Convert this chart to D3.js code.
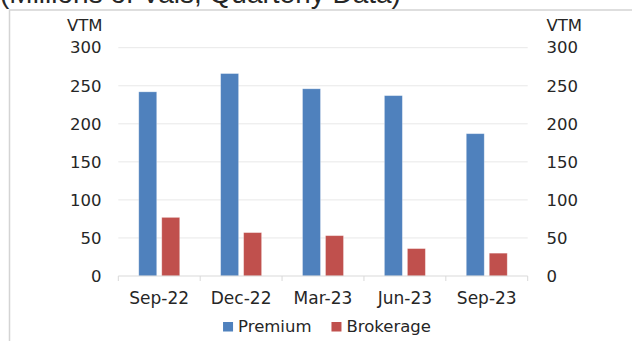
<!DOCTYPE html>
<html>
<head>
<meta charset="utf-8">
<script src="https://cdn.jsdelivr.net/npm/d3@7"></script>
<style>
  html, body { margin: 0; padding: 0; background: #fff; }
  svg { display: block; }
  text { font-family: "DejaVu Sans", sans-serif; fill: #262626; }
</style>
</head>
<body>
<svg id="chart" width="632" height="341"></svg>
<script>
// Quarterly VTM figures
const categories = ["Sep-22", "Dec-22", "Mar-23", "Jun-23", "Sep-23"];
const seriesNames = ["Premium", "Brokerage"];
const premium = [242, 266, 246, 237, 187];
const brokerage = [77, 57, 53, 36, 30];
const yTicks = [0, 50, 100, 150, 200, 250, 300];
const colors = ["#4f81bd", "#c0504d"];
const unitLabel = "VTM";
const title = "(Millions of Vals, Quarterly Data)";

const rows = categories.map((c, i) => ({ cat: c, values: [premium[i], brokerage[i]] }));

const W = 632, H = 341;
const plot = { left: 118.3, right: 527.7, top: 47.7, bottom: 276 };

const svg = d3.select("#chart");

// heading running off the top edge
svg.append("text")
  .attr("x", 0).attr("y", 2.5)
  .style("font-family", "Liberation Sans, Arial, sans-serif")
  .attr("font-size", 28)
  .text(title);

// frame
svg.append("path")
  .attr("d", `M${W},10 H9.5 V${H}`)
  .attr("fill", "none")
  .attr("stroke", "#d4d4d4")
  .attr("stroke-width", 1.5);

const x0 = d3.scaleBand().domain(categories)
  .range([plot.left, plot.right]).paddingInner(0.5).paddingOuter(0.25);
const x1 = d3.scaleBand().domain(seriesNames)
  .range([0, x0.bandwidth()]).paddingInner(0.22).paddingOuter(0);
const y = d3.scaleLinear().domain([0, 300]).range([plot.bottom, plot.top]);

// gridlines
svg.append("g").selectAll("line")
  .data(yTicks.filter(t => t > 0))
  .join("line")
  .attr("x1", plot.left).attr("x2", plot.right)
  .attr("y1", d => y(d)).attr("y2", d => y(d))
  .attr("stroke", "#e8e8e8").attr("stroke-width", 1);

// bars
const groups = svg.append("g").selectAll("g")
  .data(rows).join("g")
  .attr("transform", d => `translate(${x0(d.cat)},0)`);
groups.selectAll("rect")
  .data(d => d.values.map((v, i) => ({ key: seriesNames[i], v, i })))
  .join("rect")
  .attr("x", d => x1(d.key))
  .attr("width", x1.bandwidth())
  .attr("y", d => y(d.v))
  .attr("height", d => y(0) - y(d.v))
  .attr("fill", d => colors[d.i])
  .attr("stroke", "rgba(255,255,255,0.35)")
  .attr("stroke-width", 0.8);

// category axis
const step = x0.step();
const bounds = d3.range(categories.length + 1).map(i => plot.left + i * step);
const xa = svg.append("g");
xa.append("line")
  .attr("x1", plot.left).attr("x2", plot.right)
  .attr("y1", plot.bottom).attr("y2", plot.bottom)
  .attr("stroke", "#d9d9d9").attr("stroke-width", 1);
xa.selectAll("line.tk").data(bounds).join("line").attr("class", "tk")
  .attr("x1", d => d).attr("x2", d => d)
  .attr("y1", plot.bottom).attr("y2", plot.bottom + 5)
  .attr("stroke", "#d9d9d9").attr("stroke-width", 1);
xa.selectAll("text").data(categories).join("text")
  .attr("x", d => x0(d) + x0.bandwidth() / 2)
  .attr("y", 303.5)
  .attr("text-anchor", "middle")
  .attr("font-size", 17)
  .text(d => d);

// value axes on both sides
const leftAxis = d3.axisLeft(y).tickValues(yTicks).tickSize(0).tickPadding(0);
const rightAxis = d3.axisRight(y).tickValues(yTicks).tickSize(0).tickPadding(0);
function styleAxis(g) {
  g.select(".domain").remove();
  g.selectAll("text").attr("font-size", 16.5).style("font-family", "DejaVu Sans, sans-serif").attr("fill", "#262626");
}
svg.append("g").attr("transform", "translate(101.5,0)").call(leftAxis).call(styleAxis);
svg.append("g").attr("transform", "translate(546.5,0)").call(rightAxis).call(styleAxis);

svg.append("text").attr("x", 102.5).attr("y", 30.5).attr("text-anchor", "end")
  .attr("font-size", 16.5).text(unitLabel);
svg.append("text").attr("x", 546.5).attr("y", 30.5).attr("text-anchor", "start")
  .attr("font-size", 16.5).text(unitLabel);

// legend
const legend = svg.append("g");
let cx = 0;
seriesNames.forEach((name, i) => {
  const item = legend.append("g").attr("transform", `translate(${cx},0)`);
  item.append("rect").attr("x", 0).attr("y", -9.5).attr("width", 10).attr("height", 9.5)
    .attr("fill", colors[i]);
  const t = item.append("text").attr("x", 15).attr("y", 0)
    .attr("font-size", 16.5).text(name);
  cx += 15 + t.node().getComputedTextLength() + 20;
});
const legendW = cx - 20;
legend.attr("transform", `translate(${327 - legendW / 2},331.5)`);
</script>
</body>
</html>
